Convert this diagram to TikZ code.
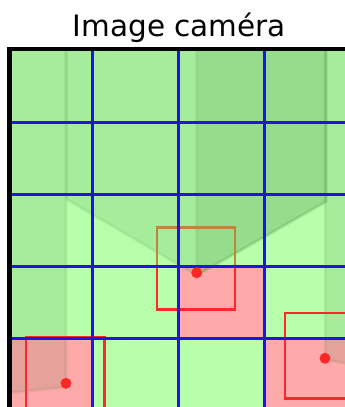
\documentclass[tikz,border=0pt]{standalone}
\usepackage{fontspec}
\setmainfont{DejaVu Sans}
\definecolor{bggreen}{RGB}{183,255,170}
\definecolor{cellpink}{RGB}{255,170,170}
\definecolor{facegreen}{RGB}{40,110,40}
\definecolor{gridblue}{RGB}{30,20,235}
\definecolor{boxred}{RGB}{255,40,40}
\definecolor{boxbrown}{RGB}{190,135,55}
\begin{document}
\begin{tikzpicture}[x=1pt,y=-1pt,
  shadeface/.style={fill=facegreen,fill opacity=0.12,draw=facegreen,draw opacity=0.08,line width=3pt,line join=round},
  gridline/.style={draw=gridblue,line width=2.5pt},
  winbox/.style={draw=boxred,line width=2.4pt},
  dotmark/.style={fill=boxred},
  pinkcell/.style={fill=cellpink}]
\useasboundingbox (0,0) rectangle (345,407);
\clip (0,0) rectangle (345,407);
% title
\node[anchor=base,font=\fontsize{29.5}{35}\selectfont,inner sep=0pt] (title) at (179.5,36) {Image caméra};
% background
\fill[bggreen] (9.5,49) rectangle (360,420);
% pink cells
\path[pinkcell] (178.3,266.3) rectangle (264.3,338.3);
\path[pinkcell] (9.5,338.3) rectangle (92.3,420);
\path[pinkcell] (264.3,338.3) rectangle (360,420);
% translucent faces
\path[shadeface] (66,49) -- (326,49) -- (326,201.7) -- (196.7,275.5) -- (66.5,199.3) -- cycle;
\path[shadeface] (196.7,49) -- (326,49) -- (326,201.7) -- (196.7,275.5) -- cycle;
\path[shadeface] (9.5,49) -- (66,49) -- (66,387.3) -- (9.5,393) -- cycle;
\path[shadeface] (325,49) -- (362,49) -- (362,366.2) -- (325,360) -- cycle;
% windows
\draw[winbox] (156.7,227.3) rectangle (235,309.3);
\begin{scope}
\clip (150,215) rectangle (245,266.3);
\draw[winbox,draw=boxbrown] (156.7,227.3) rectangle (235,309.3);
\end{scope}
\draw[winbox] (26,336.7) rectangle (104.3,420);
\draw[winbox] (285,312.7) rectangle (363,398.3);
% grid
\foreach \gx in {92.3,178.3,264.3} \draw[gridline] (\gx,49) -- (\gx,410);
\foreach \gy in {122.3,194.3,266.3,338.3} \draw[gridline] (9.5,\gy) -- (350,\gy);
% points
\path[dotmark] (196.7,272.7) circle (5.5);
\path[dotmark] (66,383.3) circle (5.5);
\path[dotmark] (325,358.3) circle (5.5);
% frame
\draw[line width=4.3pt] (9.5,420) -- (9.5,49) -- (365,49);
\end{tikzpicture}
\end{document}
